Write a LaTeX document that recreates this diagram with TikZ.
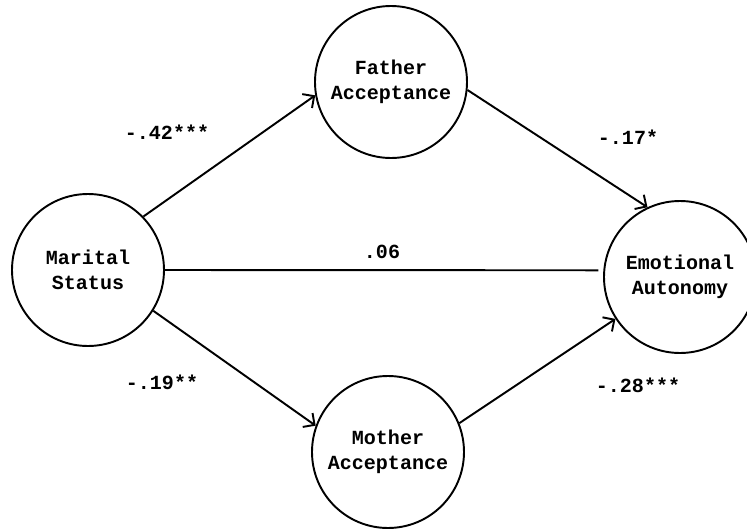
\documentclass[tikz,border=0pt]{standalone}
\usepackage{fontspec}
\setmonofont{Liberation Mono}
\usetikzlibrary{arrows.meta}
\tikzstyle{construct}=[draw, circle, minimum size=3.04cm, inner sep=0, line width=1.1pt, align=center, font=\ttfamily\bfseries\fontsize{11.4}{14.2}\selectfont]
\tikzstyle{effect}=[line width=1.1pt, -{Straight Barb[length=0.17cm, width=0.34cm, line width=1.1pt]}]
\tikzstyle{coefficient}=[font=\ttfamily\bfseries\fontsize{11.4}{14.2}\selectfont]

\begin{document}
\begin{tikzpicture}
    \useasboundingbox (0, 0) rectangle (14.94, 10.58);
    \node[construct] (marital_status) at (1.76, 5.18) {Marital\\Status};
    \node[construct] (father_acc) at (7.82, 8.94) {Father\\Acceptance};
    \node[construct] (mother_acc) at (7.76, 1.54) {Mother\\Acceptance};
    \node[construct] (emotional_aut) at (13.6, 5.04) {Emotional\\Autonomy};

    \draw[effect] (marital_status.44) to (father_acc.190);
    \draw[effect] (father_acc.354) to (emotional_aut.115);
    \draw[effect] (marital_status.328) to (mother_acc.160);
    \draw[effect] (mother_acc.22) to (emotional_aut.213);
    \draw[line width=1.1pt, shorten >=0.1cm] (marital_status.0) to (emotional_aut.175);

    \node[coefficient] (c_fa) at (3.34, 7.94) {-.42***};
    \node[coefficient] (c_direct) at (7.64, 5.54) {.06};
    \node[coefficient] (c_fe) at (12.56, 7.84) {-.17*};
    \node[coefficient] (c_ma) at (3.24, 2.94) {-.19**};
    \node[coefficient] (c_me) at (12.76, 2.88) {-.28***};
  \end{tikzpicture}
\end{document}
